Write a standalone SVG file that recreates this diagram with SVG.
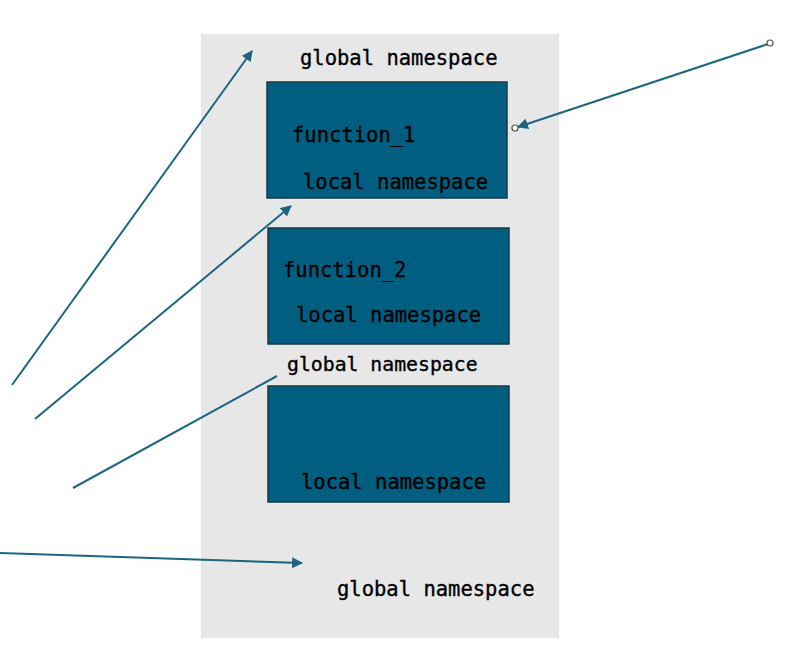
<svg xmlns="http://www.w3.org/2000/svg" width="792" height="672" viewBox="0 0 792 672">
<defs>
<style>
.bg{fill:#e7e7e8}
.box{fill:#005f80;stroke:#163848;stroke-width:1.5}
.t{font-family:"DejaVu Sans Mono","Liberation Mono",monospace;font-size:20.5px;fill:#000;stroke:#000;stroke-width:0.35}
.c{stroke:#1b6580;stroke-width:2;fill:none}
.h{fill:#fff;stroke:#555;stroke-width:1.2}
</style>
<marker id="ah" viewBox="0 0 10 10" refX="9" refY="5" markerWidth="5.5" markerHeight="5.5" orient="auto" markerUnits="strokeWidth">
<path d="M0,0 L10,5 L0,10 z" fill="#1b6580"/>
</marker>
</defs>
<rect width="792" height="672" fill="#fff"/>
<rect class="bg" x="201" y="34" width="358" height="604"/>
<g id="global1"><text class="t" x="300" y="65">global namespace</text></g>
<g id="function1">
<rect class="box" x="267" y="82" width="240" height="116"/>
<text class="t" x="292" y="142">function_1</text>
<text class="t" x="303" y="189">local namespace</text>
</g>
<g id="function2">
<rect class="box" x="268" y="228" width="241" height="116"/>
<text class="t" x="283" y="277">function_2</text>
<text class="t" x="296" y="322">local namespace</text>
</g>
<g id="global2"><text class="t" x="287" y="371" style="font-size:19.8px">global namespace</text></g>
<g id="function3">
<rect class="box" x="268" y="386" width="241" height="116"/>
<text class="t" x="301" y="489">local namespace</text>
</g>
<g id="global3"><text class="t" x="337" y="596">global namespace</text></g>
<g id="connectors">
<line class="c" x1="12" y1="385" x2="252" y2="51" marker-end="url(#ah)"/>
<line class="c" x1="35" y1="419" x2="291" y2="206" marker-end="url(#ah)"/>
<line class="c" x1="73" y1="488" x2="277" y2="376"/>
<line class="c" x1="0" y1="553" x2="302" y2="563" marker-end="url(#ah)"/>
<line class="c" x1="768" y1="44" x2="518" y2="127" marker-end="url(#ah)"/>
<circle class="h" cx="770" cy="43" r="3"/>
<circle class="h" cx="515" cy="128" r="3"/>
</g>
</svg>
